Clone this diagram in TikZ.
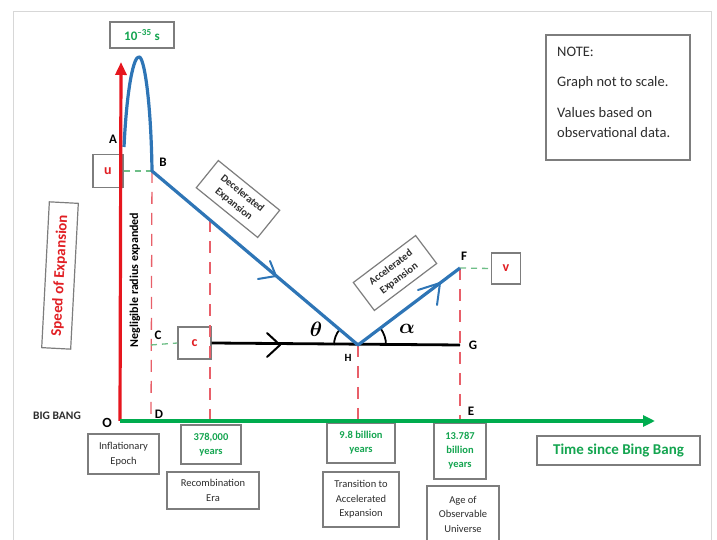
\documentclass[tikz,border=0pt]{standalone}
\usepackage{amsmath}
\usepackage{fontspec}
\setmainfont{Carlito}
\usetikzlibrary{arrows.meta}
\definecolor{axred}{RGB}{230,22,30}
\definecolor{txtred}{RGB}{225,30,35}
\definecolor{axgreen}{RGB}{0,172,78}
\definecolor{txtgreen}{RGB}{20,165,80}
\definecolor{dashred}{RGB}{232,95,105}
\definecolor{dashgreen}{RGB}{110,190,135}
\definecolor{curveblue}{RGB}{46,117,182}
\definecolor{boxgray}{RGB}{125,125,125}
\definecolor{framegray}{RGB}{215,215,215}
\definecolor{txtdark}{RGB}{45,45,45}
\begin{document}
\begin{tikzpicture}[x=1pt,y=1pt,
  box/.style={draw=boxgray,line width=1.2pt,fill=white,inner sep=0pt,align=center},
  gtxt/.style={text=txtgreen,font=\fontsize{10.5}{14}\selectfont\bfseries},
  dtxt/.style={text=txtdark,font=\fontsize{10.5}{14.5}\selectfont},
  lbl/.style={font=\fontsize{13}{13}\selectfont\bfseries,inner sep=0pt},
  rdash/.style={draw=dashred,line width=1.3pt,dash pattern=on 12pt off 9pt},
  gdash/.style={draw=dashgreen,line width=1.3pt,dash pattern=on 6pt off 5pt},
  curve/.style={draw=curveblue,line width=3.2pt,line join=round},
  chev/.style={line width=2pt,line cap=round,line join=round},
  letterbox/.style={box,text=txtred,font=\fontsize{14}{14}\selectfont\bfseries},
  notetxt/.style={anchor=west,inner sep=0pt,text=txtdark,font=\fontsize{14.5}{16}\selectfont},
]
\useasboundingbox (0,0) rectangle (717,540);
\draw[framegray,line width=1pt] (13,-5) -- (13,528) -- (711,528) -- (711,-5);

% key points
\coordinate (O) at (120,119);
\coordinate (Ytop) at (121,478);
\coordinate (Xend) at (655,119);
\coordinate (A) at (124,393);
\coordinate (Pk) at (139,483);
\coordinate (B) at (152,369);
\coordinate (H) at (358,195);
\coordinate (F) at (460,272);
\coordinate (G) at (460,195);
\coordinate (D) at (151,119);
\coordinate (Cp) at (151,195);
\coordinate (Rt) at (210,320);
\coordinate (R) at (210,119);
\coordinate (Hb) at (358,119);
\coordinate (E) at (460,119);

% boxes
\node[letterbox,minimum width=30,minimum height=33] (ubox) at (108,369) {u};
\node[letterbox,minimum width=33,minimum height=32] (cbox) at (194.5,197) {c};
\node[letterbox,minimum width=29,minimum height=31] (vbox) at (506,271.5) {v};
\node[box,minimum width=64,minimum height=26,text=txtgreen,font=\fontsize{13}{13}\selectfont\bfseries] (tbox) at (142,505) {10\textsuperscript{\textendash35} s};

\node[box,rotate=87,minimum width=146,minimum height=29,text=txtred,font=\fontsize{15}{15}\selectfont\bfseries] (speed) at (60,264.5) {Speed of Expansion};
\node[rotate=90,inner sep=0pt,font=\fontsize{12}{12}\selectfont\bfseries] (negl) at (135,260) {Negligible radius expanded};

\node[box,rotate=-39,minimum width=79,minimum height=35,text=txtdark,font=\fontsize{10.5}{13.5}\selectfont\bfseries] (dec) at (238,341) {Decelerated\\Expansion};
\node[box,rotate=37,minimum width=78,minimum height=35,text=txtdark,font=\fontsize{10.5}{13.5}\selectfont\bfseries] (acc) at (395,267) {Accelerated\\Expansion};

\node[box,minimum width=144,minimum height=125] (note) at (618,442.5) {};
\node[notetxt] (n1) at (557,488) {NOTE:};
\node[notetxt] (n2) at (557,457) {Graph not to scale.};
\node[notetxt] (n3) at (557,427) {Values based on};
\node[notetxt] (n4) at (557,407) {observational data.};

\node[box,dtxt,minimum width=71,minimum height=40] (infl) at (123.5,86) {Inflationary\\Epoch};
\node[box,gtxt,minimum width=60,minimum height=39] (y378) at (211,95.5) {378,000\\years};
\node[box,dtxt,minimum width=92,minimum height=37] (recomb) at (213,49.5) {Recombination\\Era};
\node[box,gtxt,minimum width=68,minimum height=40] (y98) at (361,97) {9.8 billion\\years};
\node[box,dtxt,minimum width=76,minimum height=55] (trans) at (361,40.5) {Transition to\\Accelerated\\Expansion};
\node[box,gtxt,minimum width=52,minimum height=56] (y13) at (460,89) {13.787\\billion\\years};
\node[box,dtxt,minimum width=72,minimum height=56] (age) at (463,26) {Age of\\Observable\\Universe};
\node[box,minimum width=163,minimum height=29,text=txtgreen,font=\fontsize{15}{15}\selectfont\bfseries] (time) at (618.5,89.5) {Time since Bing Bang};

% dashed guides
\draw[rdash] (B) -- (D);
\draw[rdash] (Rt) -- (R);
\draw[rdash] (H) -- (Hb);
\draw[rdash] (F) -- (E);
\draw[gdash] (ubox.east) -- (B);
\draw[gdash] (Cp) -- (cbox.west);
\draw[gdash] (F) -- (vbox.west);

% black line c -> G
\draw[black,line width=2.8pt] (cbox.east) -- (G);
\draw[chev] (267,207) -- (280,195) -- (267,183);

% angle arcs
\draw[black,line width=1.8pt] (H) ++(180:24) arc[start angle=180,end angle=140,radius=24];
\draw[black,line width=1.8pt] (H) ++(0:28) arc[start angle=0,end angle=37,radius=28];
\node[inner sep=0pt,font=\fontsize{20}{20}\selectfont] (theta) at (316,211) {$\boldsymbol{\theta}$};
\node[inner sep=0pt,font=\fontsize{22}{22}\selectfont] (alpha) at (407,211) {$\boldsymbol{\alpha}$};

% blue speed curve
\draw[curve] (A) .. controls (127,455) and (134,484) .. (Pk) .. controls (144,484) and (151,440) .. (B) -- (H) -- (F);
\draw[chev,curveblue] (270,279) -- (276,264) -- (258,261);
\draw[chev,curveblue] (418,250) -- (440,257) -- (437,235);

% axes
\draw[axred,line width=3.2pt,-{Triangle[length=13pt,width=11pt]}] (O) -- (Ytop);
\draw[axgreen,line width=3.5pt,-{Triangle[length=12pt,width=11pt]}] (O) -- (Xend);

% labels
\node[lbl] (lA) at (113,401) {A};
\node[lbl] (lB) at (163,378) {B};
\node[lbl] (lC) at (158,205) {C};
\node[lbl] (lD) at (159,126) {D};
\node[lbl] (lE) at (471,129) {E};
\node[lbl] (lF) at (464,284) {F};
\node[lbl] (lG) at (473,195) {G};
\node[lbl,font=\fontsize{11}{11}\selectfont\bfseries] (lH) at (348,182) {H};
\node[lbl,font=\fontsize{14}{14}\selectfont\bfseries] (lO) at (107,117) {O};
\node[lbl,font=\fontsize{11.5}{11.5}\selectfont\bfseries,text=txtdark] (bb) at (57,124) {BIG BANG};
\end{tikzpicture}
\end{document}
